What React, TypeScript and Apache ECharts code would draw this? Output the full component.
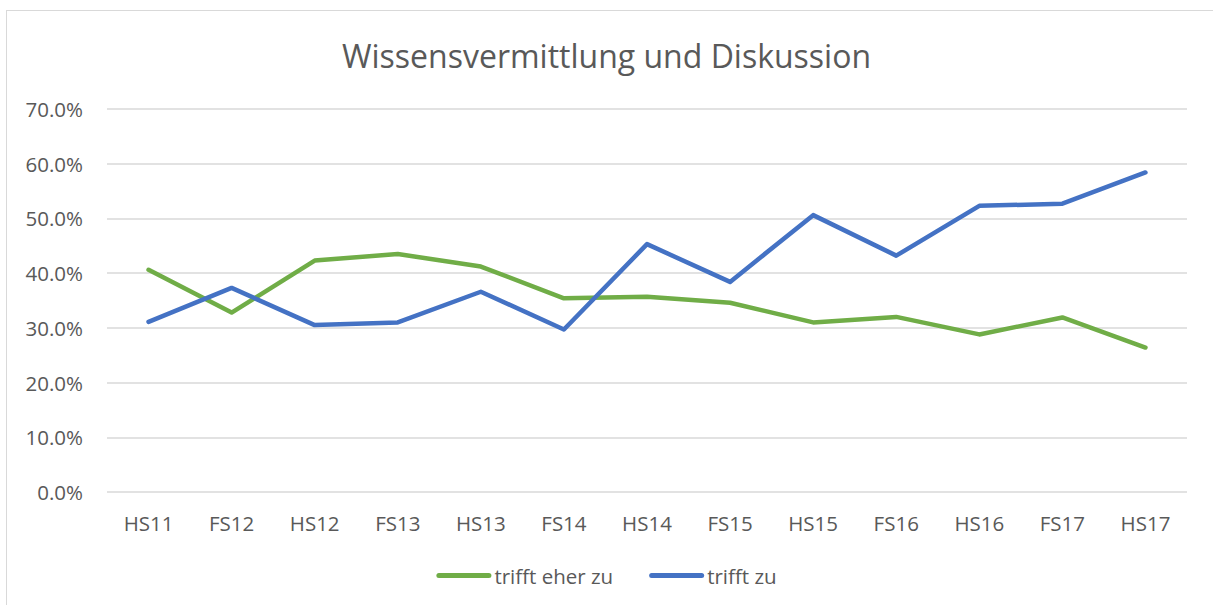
import React, { useEffect, useRef } from "react";
import * as echarts from "echarts";

const categories = ["HS11", "FS12", "HS12", "FS13", "HS13", "FS14", "HS14", "FS15", "HS15", "FS16", "HS16", "FS17", "HS17"];
const trifftEherZu = [40.6, 32.8, 42.3, 43.5, 41.2, 35.4, 35.7, 34.6, 31.0, 32.0, 28.8, 31.9, 26.4];
const trifftZu = [31.1, 37.3, 30.5, 31.0, 36.6, 29.7, 45.3, 38.4, 50.6, 43.2, 52.3, 52.7, 58.4];
const seriesNames = ["trifft eher zu", "trifft zu"];
const colors = ["#70AD47", "#4472C4"];

const FONT = "Open Sans";
const TXT = "#595959";

export default function App() {
  const ref = useRef<HTMLDivElement>(null);
  useEffect(() => {
    document.body.style.margin = "0";
    const chart = echarts.init(ref.current!, null, { renderer: "svg" });
    const icon = "path://M2.5,0 H52.5 A2.5,2.5 0 0 1 52.5,5 H2.5 A2.5,2.5 0 0 1 2.5,0 Z";
    chart.setOption({
      animation: false,
      backgroundColor: "#ffffff",
      title: {
        text: "Wissensvermittlung und Diskussion",
        left: "center",
        top: 34,
        textStyle: { fontFamily: FONT, fontSize: 32, fontWeight: "normal", color: TXT },
      },
      legend: {
        top: 560,
        left: "center",
        itemWidth: 55,
        itemHeight: 5,
        itemGap: 36,
        icon,
        textStyle: { fontFamily: FONT, fontSize: 20.5, color: TXT, padding: [0, 0, 0, -2] },
        data: seriesNames,
      },
      grid: { left: 107, right: 26, top: 109, bottom: 113, containLabel: false },
      xAxis: {
        type: "category",
        data: categories,
        boundaryGap: true,
        axisLine: { show: false },
        axisTick: { show: false },
        axisLabel: { fontFamily: FONT, fontSize: 20.5, color: TXT, margin: 20 },
      },
      yAxis: {
        type: "value",
        min: 0,
        max: 70,
        interval: 10,
        axisLine: { show: false },
        axisTick: { show: false },
        splitLine: { lineStyle: { color: "#D9D9D9", width: 1.5 } },
        axisLabel: {
          fontFamily: FONT,
          fontSize: 20.5,
          color: TXT,
          margin: 24,
          formatter: (v: number) => v.toFixed(1) + "%",
        },
      },
      series: [
        {
          name: seriesNames[0],
          type: "line",
          data: trifftEherZu,
          symbol: "none",
          color: colors[0],
          lineStyle: { width: 4.5, color: colors[0], cap: "round", join: "round" },
        },
        {
          name: seriesNames[1],
          type: "line",
          data: trifftZu,
          symbol: "none",
          color: colors[1],
          lineStyle: { width: 4.5, color: colors[1], cap: "round", join: "round" },
        },
      ],
    });
    return () => chart.dispose();
  }, []);
  return (
    <div style={{ position: "relative", width: 1213, height: 605, overflow: "hidden", background: "#fff" }}>
      <div ref={ref} style={{ position: "absolute", left: 0, top: 0, width: 1213, height: 605 }} />
      <div
        style={{
          position: "absolute",
          left: 6,
          top: 10,
          width: 1300,
          height: 700,
          borderLeft: "1.5px solid #D9D9D9",
          borderTop: "1.5px solid #D9D9D9",
          pointerEvents: "none",
        }}
      />
    </div>
  );
}
